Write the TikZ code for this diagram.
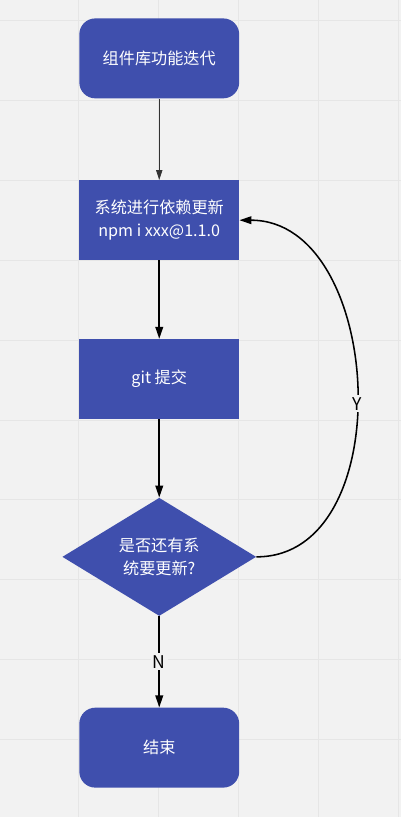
\documentclass[tikz,border=0pt]{standalone}
\usepackage{fontspec}
\setmainfont{Noto Sans CJK SC}
\usetikzlibrary{shapes.geometric,arrows.meta}
\definecolor{boxblue}{HTML}{3F4FAD}
\definecolor{bggray}{HTML}{F2F2F2}
\definecolor{gridgray}{HTML}{E6E6E6}
\tikzset{
  boxnode/.style={fill=boxblue,text=white,minimum width=4cm,minimum height=2cm,inner sep=0pt,align=center,font=\fontsize{11.5}{16}\selectfont},
  roundbox/.style={boxnode,rounded corners=0.4cm},
  choice/.style={diamond,fill=boxblue,text=white,minimum width=4.85cm,minimum height=2.9cm,inner sep=0pt,align=center,font=\fontsize{11.5}{16}\selectfont},
  flow/.style={->,line width=1.1pt},
  tag/.style={fill=bggray,inner sep=1.5pt,font=\fontsize{12.5}{14}\selectfont}
}
\begin{document}
\begin{tikzpicture}[x=0.025cm,y=-0.025cm,>={Triangle[length=8.5pt,width=5.5pt]}]
  \fill[bggray] (0,0) rectangle (401,817);
  \foreach \x in {78,158,238,318,398} {\draw[gridgray,line width=0.6pt] (\x,0) -- (\x,817);}
  \foreach \y in {20,100,...,740} {\draw[gridgray,line width=0.6pt] (0,\y) -- (401,\y);}
  \node[roundbox] (start) at (159,58) {组件库功能迭代};
  \node[boxnode] (upd) at (159,220) {系统进行依赖更新\\npm i xxx@1.1.0};
  \node[boxnode] (git) at (159,379) {git 提交};
  \node[choice] (more) at (159,557) {是否还有系\\统要更新?};
  \node[roundbox] (done) at (159,748) {结束};
  \draw[->,line width=0.6pt,black!80,>={Triangle[length=7pt,width=4.5pt]}] (start) -- (upd);
  \draw[flow] (upd) -- (git);
  \draw[flow] (git) -- (more);
  \draw[flow] (more) -- node[tag] {N} (done);
  \draw[flow] (more.east) .. controls +(145,0) and +(145,0) .. node[tag,pos=0.47] {Y} (upd.east);
\end{tikzpicture}
\end{document}
